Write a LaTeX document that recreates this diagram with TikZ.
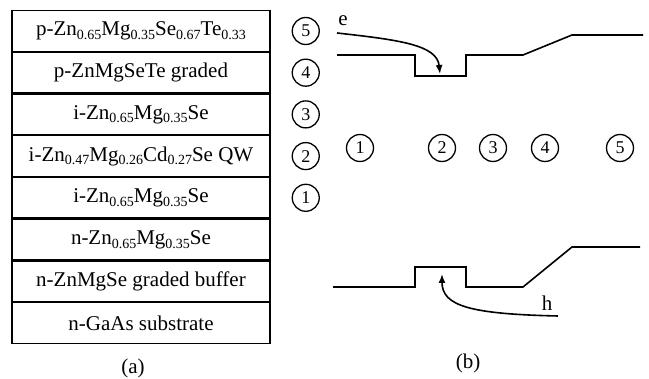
\documentclass[tikz,border=0pt]{standalone}
\usepackage{fontspec}
\setmainfont{Liberation Serif}
\usetikzlibrary{arrows.meta,positioning}
\newcommand{\sbs}[1]{\raisebox{-0.4ex}{\fontsize{14}{14}\selectfont #1}}
\begin{document}
\begin{tikzpicture}[x=1pt, y=-1pt, font=\fontsize{21}{24}\selectfont, node distance=0pt]
\tikzstyle{layer}=[draw, line width=1.2pt, minimum width=258pt, minimum height=40.5pt, inner sep=0pt, align=center]
\tikzstyle{num}=[draw, circle, line width=1.3pt, minimum size=27pt, inner sep=0pt, font=\fontsize{18}{18}\selectfont]
\tikzstyle{band}=[line width=1.6pt]
\useasboundingbox (0,0) rectangle (649,379);
% (a) layer stack
\node[layer] (l1) at (141,31) {p-Zn\sbs{0.65}Mg\sbs{0.35}Se\sbs{0.67}Te\sbs{0.33}};
\node[layer, below=of l1] (l2) {p-ZnMgSeTe graded};
\node[layer, below=of l2] (l3) {i-Zn\sbs{0.65}Mg\sbs{0.35}Se};
\node[layer, below=of l3] (l4) {i-Zn\sbs{0.47}Mg\sbs{0.26}Cd\sbs{0.27}Se QW};
\node[layer, below=of l4] (l5) {i-Zn\sbs{0.65}Mg\sbs{0.35}Se};
\node[layer, below=of l5] (l6) {n-Zn\sbs{0.65}Mg\sbs{0.35}Se};
\node[layer, below=of l6] (l7) {n-ZnMgSe graded buffer};
\node[layer, below=of l7] (l8) {n-GaAs substrate};
\foreach \i/\l in {1/5,2/4,3/3,4/2,5/1}{\node[num, right=21pt of l\i] (cl\l) {\l};}
\node (capa) at (133,368) {(a)};
% (b) band diagram
\draw[band] (337,55) -- (415,55) -- (415,76) -- (466,76) -- (466,55) -- (523,55) -- (572,35) -- (643,35);
\draw[band] (333,287) -- (415,287) -- (415,267) -- (466,267) -- (466,287) -- (523,287) -- (572,247) -- (640,247);
\foreach \x/\l in {360/1,442/2,493/3,545/4,620/5}{\node[num] (cb\l) at (\x,148) {\l};}
\node (e) at (343,21) {e};
\node (h) at (547,303) {h};
\coordinate (eS) at (337,33);
\coordinate (eT) at (440,74);
\coordinate (hS) at (558,316);
\coordinate (hT) at (442,274);
\draw[band, -{Latex[length=9pt,width=7pt]}] (eS) .. controls (400,40) and (437,45) .. (eT);
\draw[band, -{Latex[length=9pt,width=7pt]}] (hS) .. controls (470,314) and (442,306) .. (hT);
\node (capb) at (468,363) {(b)};
\end{tikzpicture}
\end{document}
